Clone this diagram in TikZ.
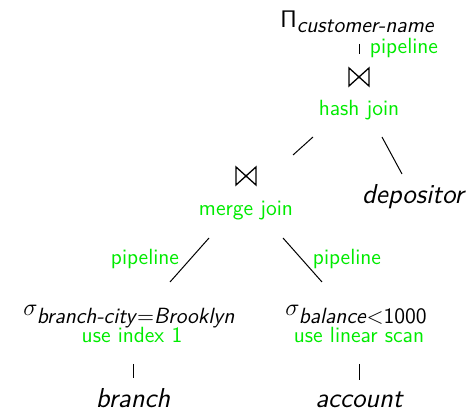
\documentclass[tikz,border=0pt]{standalone}
\usetikzlibrary{calc}
\renewcommand\familydefault{\sfdefault}
\definecolor{lime}{RGB}{0,235,0}
\newcommand\subf{\fontsize{11}{13}\selectfont}
\begin{document}
\begin{tikzpicture}[x=0.5pt,y=-0.5pt,
  lab/.style={text=lime,inner sep=0pt,font=\fontsize{11}{13}\selectfont,anchor=base},
  rel/.style={inner sep=0pt,font=\fontsize{13.7}{16}\selectfont\itshape,anchor=base},
  op/.style={inner sep=0pt,font=\fontsize{12}{14}\selectfont,anchor=base west},
  joinop/.style={inner sep=0pt,outer sep=0pt,minimum width=10pt,minimum height=9pt},
  bowtie/.style={line width=0.65pt,line join=miter},
  conn/.style={line width=0.5pt}]
\useasboundingbox (0,0) rectangle (472,411);
% nodes
\node[op,font=\fontsize{13}{15}\selectfont] (proj) at (280,28) {$\mathsf{\Pi}_{\mbox{\subf\textit{customer-name}}}$};
\node[lab] (pl1) at (404,54) {pipeline};
\node[joinop] (j1) at (359,77) {};
\node[lab] (hj) at (359,116) {hash join};
\node[joinop] (j2) at (246,176) {};
\node[lab] (mj) at (246,216) {merge join};
\node[rel] (dep) at (413,204) {depositor};
\node[lab] (pl2) at (145,265) {pipeline};
\node[lab] (pl3) at (347,265) {pipeline};
\node[op] (s1) at (23,316) {$\sigma_{\mbox{\subf\textit{branch-city}$=$\textit{Brooklyn}}}$};
\node[op] (s2) at (285,316) {$\sigma_{\mbox{\subf\textit{balance}$<$1000}}$};
\node[lab] (u1) at (132,343) {use index 1};
\node[lab] (u2) at (359,343) {use linear scan};
\node[rel] (br) at (133,408) {branch};
\node[rel] (ac) at (359,408) {account};
% join symbols
\foreach \j in {j1,j2}
  \draw[bowtie] (\j.north west) -- (\j.south west) -- (\j.north east) -- (\j.south east) -- cycle;
% connectors
\draw[conn] ($(proj.base west)+(79,16)$) -- ($(j1)+(0,-23)$);
\draw[conn] ($(hj.base)+(-46,21)$) -- ($(j2)+(47,-21)$);
\draw[conn] ($(hj.base)+(23,21)$) -- ($(dep.base)+(-11,-30)$);
\draw[conn] ($(mj.base)+(-37,22)$) -- ($(s1.base west)+(147,-34)$);
\draw[conn] ($(mj.base)+(37,22)$) -- ($(s2.base west)+(37,-34)$);
\draw[conn] ($(u1.base)+(1,21)$) -- ($(br.base)+(0,-30)$);
\draw[conn] ($(u2.base)+(0,21)$) -- ($(ac.base)+(0,-28)$);
\end{tikzpicture}
\end{document}
